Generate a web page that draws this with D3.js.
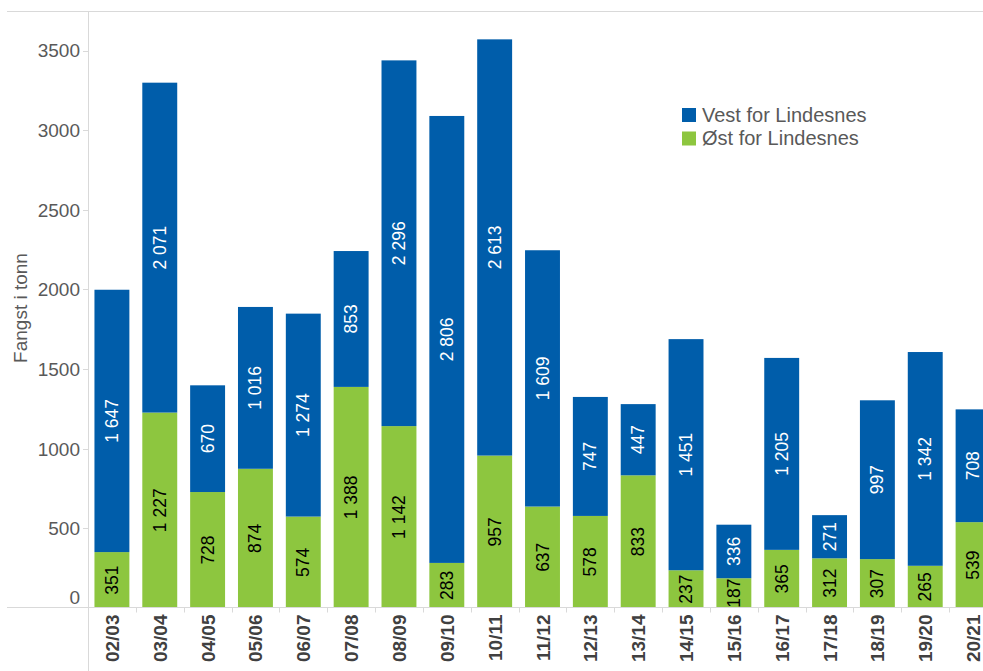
<!DOCTYPE html>
<html>
<head>
<meta charset="utf-8">
<script src="https://cdn.jsdelivr.net/npm/d3@7"></script>
<style>
  body { margin: 0; background: #fff; }
  svg { display: block; font-family: "Liberation Sans", Arial, sans-serif; }
</style>
</head>
<body>
<svg id="chart"></svg>
<script>
// seasons on the x axis
const seasons = ['02/03', '03/04', '04/05', '05/06', '06/07', '07/08', '08/09', '09/10', '10/11',
  '11/12', '12/13', '13/14', '14/15', '15/16', '16/17', '17/18', '18/19', '19/20', '20/21'];
// catch east of Lindesnes (bottom, green)
const ost = [351, 1227, 728, 874, 574, 1388, 1142, 283, 957, 637, 578, 833, 237, 187, 365, 312, 307, 265, 539];
// catch west of Lindesnes (top, blue)
const vest = [1647, 2071, 670, 1016, 1274, 853, 2296, 2806, 2613, 1609, 747, 447, 1451, 336, 1205, 271, 997, 1342, 708];
const yTicks = [0, 500, 1000, 1500, 2000, 2500, 3000, 3500];
const seriesNames = ['Vest for Lindesnes', 'Øst for Lindesnes'];

const width = 983, height = 671;
const blue = '#005DAA', green = '#8DC63F';

const svg = d3.select('#chart').attr('width', width).attr('height', height);

const rows = seasons.map((s, i) => ({ season: s, ost: ost[i], vest: vest[i] }));
const stack = d3.stack().keys(['ost', 'vest'])(rows);

const x = d3.scaleBand().domain(seasons).range([88, 997]).paddingInner(0.27).paddingOuter(0.135);
const y = d3.scaleLinear().domain([0, 3500]).range([608, 50.5]);

// frame lines
svg.append('line').attr('x1', 7).attr('x2', width).attr('y1', 11.5).attr('y2', 11.5)
  .attr('stroke', '#d9d9d9');
svg.append('line').attr('x1', 88.5).attr('x2', 88.5).attr('y1', 11).attr('y2', height)
  .attr('stroke', '#d9d9d9');

// bars
const colors = { ost: green, vest: blue };
svg.append('g').selectAll('g')
  .data(stack)
  .join('g')
  .attr('fill', d => colors[d.key])
  .selectAll('rect')
  .data(d => d)
  .join('rect')
  .attr('x', d => x(d.data.season))
  .attr('width', x.bandwidth())
  .attr('y', d => y(d[1]))
  .attr('height', d => y(d[0]) - y(d[1]));

// value labels
const fmt = v => d3.format(',')(v).replace(/,/g, ' ');
stack.forEach(layer => {
  svg.append('g').selectAll('text')
    .data(layer)
    .join('text')
    .attr('transform', d => `translate(${x(d.data.season) + x.bandwidth() / 2 + 6},${(y(d[0]) + y(d[1])) / 2}) rotate(-90)`)
    .attr('text-anchor', 'middle')
    .attr('font-size', 17.5)
    .attr('fill', layer.key === 'vest' ? '#fff' : '#000')
    .text(d => fmt(d.data[layer.key]));
});

// baseline
svg.append('line').attr('x1', 7).attr('x2', width).attr('y1', 607.5).attr('y2', 607.5)
  .attr('stroke', '#d9d9d9');

// x axis
const xAxis = svg.append('g').attr('transform', 'translate(0,607.5)');
const bounds = seasons.map(s => x(s) - x.step() * x.paddingInner() / 2);
xAxis.selectAll('line.sep')
  .data(bounds.slice(1))
  .join('line')
  .attr('x1', d => Math.round(d) + 0.5).attr('x2', d => Math.round(d) + 0.5)
  .attr('y1', 0).attr('y2', 5)
  .attr('stroke', '#d9d9d9');
xAxis.selectAll('text')
  .data(seasons)
  .join('text')
  .attr('transform', d => `translate(${x(d) + x.bandwidth() / 2 + 7},7) rotate(-90)`)
  .attr('text-anchor', 'end')
  .attr('font-size', 19)
  .attr('font-weight', 'bold')
  .attr('fill', '#404040')
  .text(d => d);

// y axis
const yAxis = svg.append('g');
yAxis.selectAll('line')
  .data(yTicks.slice(1))
  .join('line')
  .attr('x1', 83).attr('x2', 88)
  .attr('y1', d => Math.round(y(d)) + 0.5).attr('y2', d => Math.round(y(d)) + 0.5)
  .attr('stroke', '#d9d9d9');
yAxis.selectAll('text')
  .data(yTicks)
  .join('text')
  .attr('x', 80)
  .attr('y', d => (d === 0 ? y(d) - 11 : y(d)))
  .attr('dy', '0.36em')
  .attr('text-anchor', 'end')
  .attr('font-size', 19)
  .attr('fill', '#595959')
  .text(d => d);

svg.append('text')
  .attr('transform', 'translate(27,308) rotate(-90)')
  .attr('text-anchor', 'middle')
  .attr('font-size', 19)
  .attr('fill', '#595959')
  .text('Fangst i tonn');

// legend
const legend = svg.append('g').attr('transform', 'translate(682,108)');
seriesNames.forEach((name, i) => {
  const g = legend.append('g').attr('transform', `translate(0,${i * 23.5})`);
  g.append('rect').attr('width', 14).attr('height', 14).attr('fill', i === 0 ? blue : green);
  g.append('text').attr('x', 20).attr('y', 13.5).attr('font-size', 20).attr('fill', '#595959').text(name);
});
</script>
</body>
</html>
